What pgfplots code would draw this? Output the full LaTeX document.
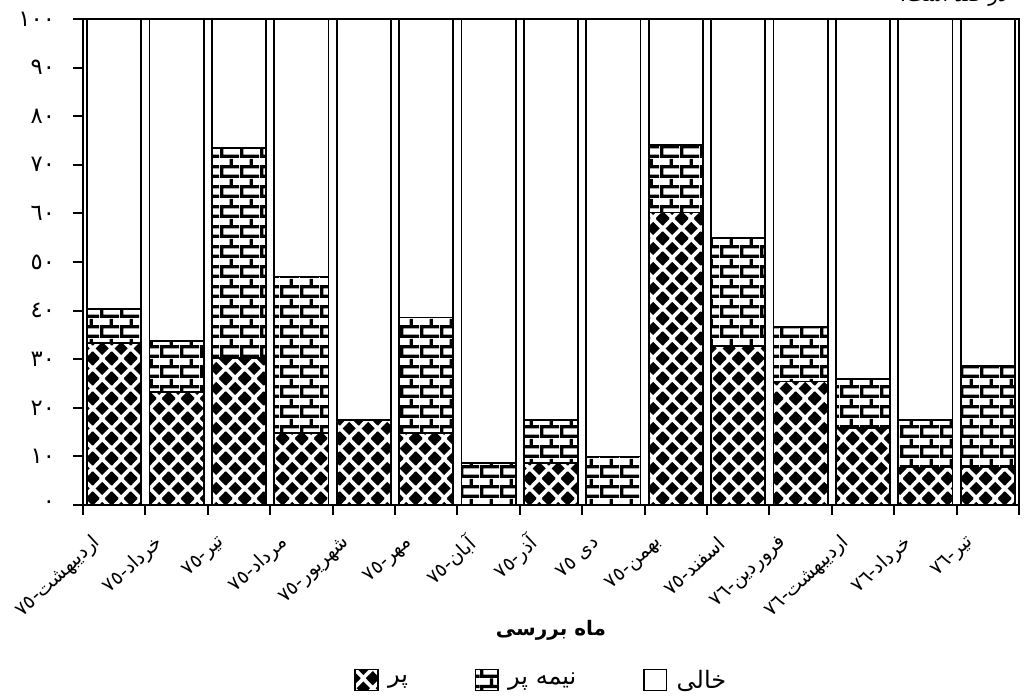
\documentclass[border=0pt]{standalone}
\usepackage{pgfplots}
\pgfplotsset{compat=1.18}
\usepackage{fontspec}
\usetikzlibrary{patterns}
\TeXXeTstate=1
\newfontfamily\arabicfont[Script=Arabic]{DejaVu Sans}
\newfontfamily\digitfont{DejaVu Sans}

\pgfdeclarepatternformonly{diamonds}{\pgfqpoint{0pt}{0pt}}{\pgfqpoint{14pt}{15pt}}{\pgfqpoint{14pt}{15pt}}{%
  \pgfpathmoveto{\pgfqpoint{7pt}{2.3pt}}\pgfpathlineto{\pgfqpoint{12pt}{7.5pt}}\pgfpathlineto{\pgfqpoint{7pt}{12.7pt}}\pgfpathlineto{\pgfqpoint{2pt}{7.5pt}}\pgfpathclose
  \pgfpathmoveto{\pgfqpoint{0pt}{-5.2pt}}\pgfpathlineto{\pgfqpoint{5pt}{0pt}}\pgfpathlineto{\pgfqpoint{0pt}{5.2pt}}\pgfpathlineto{\pgfqpoint{-5pt}{0pt}}\pgfpathclose
  \pgfpathmoveto{\pgfqpoint{14pt}{-5.2pt}}\pgfpathlineto{\pgfqpoint{19pt}{0pt}}\pgfpathlineto{\pgfqpoint{14pt}{5.2pt}}\pgfpathlineto{\pgfqpoint{9pt}{0pt}}\pgfpathclose
  \pgfpathmoveto{\pgfqpoint{0pt}{9.8pt}}\pgfpathlineto{\pgfqpoint{5pt}{15pt}}\pgfpathlineto{\pgfqpoint{0pt}{20.2pt}}\pgfpathlineto{\pgfqpoint{-5pt}{15pt}}\pgfpathclose
  \pgfpathmoveto{\pgfqpoint{14pt}{9.8pt}}\pgfpathlineto{\pgfqpoint{19pt}{15pt}}\pgfpathlineto{\pgfqpoint{14pt}{20.2pt}}\pgfpathlineto{\pgfqpoint{9pt}{15pt}}\pgfpathclose
  \pgfusepath{fill}}

\pgfdeclarepatternformonly{bricksx}{\pgfqpoint{0pt}{0pt}}{\pgfqpoint{15pt}{15pt}}{\pgfqpoint{15pt}{15pt}}{%
  \pgfpathrectangle{\pgfqpoint{0pt}{0pt}}{\pgfqpoint{15pt}{2.6pt}}
  \pgfpathrectangle{\pgfqpoint{0pt}{7.5pt}}{\pgfqpoint{15pt}{2.6pt}}
  \pgfpathrectangle{\pgfqpoint{0pt}{2.5pt}}{\pgfqpoint{2.6pt}{5.1pt}}
  \pgfpathrectangle{\pgfqpoint{7.5pt}{10pt}}{\pgfqpoint{2.6pt}{5.1pt}}
  \pgfusepath{fill}}

\begin{document}
\begin{tikzpicture}
\begin{axis}[
  at={(0,0)}, anchor=south west,
  scale only axis,
  width=702pt, height=364.5pt,
  ybar stacked,
  bar width=0.87,
  xmin=-0.5, xmax=14.5,
  ymin=0, ymax=100,
  axis line style={line width=1.6pt},
  every tick/.style={black, line width=1.4pt},
  tick align=outside,
  major tick length=7.5pt,
  xtick pos=bottom, ytick pos=left,
  xtick={-0.5,0.5,1.5,2.5,3.5,4.5,5.5,6.5,7.5,8.5,9.5,10.5,11.5,12.5,13.5,14.5},
  xticklabels={},
  extra x ticks={0,1,2,3,4,5,6,7,8,9,10,11,12,13,14},
  extra x tick style={major tick length=0pt},
  extra x tick labels={
    {\beginR اردیبهشت-٧٥\endR},
    {\beginR خرداد-٧٥\endR},
    {\beginR تیر-٧٥\endR},
    {\beginR مرداد-٧٥\endR},
    {\beginR شهریور-٧٥\endR},
    {\beginR مهر-٧٥\endR},
    {\beginR آبان-٧٥\endR},
    {\beginR آذر-٧٥\endR},
    {\beginR دی ٧٥\endR},
    {\beginR بهمن-٧٥\endR},
    {\beginR اسفند-٧٥\endR},
    {\beginR فروردین-٧٦\endR},
    {\beginR اردیبهشت-٧٦\endR},
    {\beginR خرداد-٧٦\endR},
    {\beginR تیر-٧٦\endR}},
  xticklabel style={font=\arabicfont\fontsize{14.5}{16}\selectfont, xshift=-10pt, yshift=-24pt, rotate=43, anchor=east},
  ytick={0,10,20,30,40,50,60,70,80,90,100},
  yticklabels={٠,١٠,٢٠,٣٠,٤٠,٥٠,٦٠,٧٠,٨٠,٩٠,١٠٠},
  yticklabel style={font=\digitfont\fontsize{17}{19}\selectfont, xshift=-10pt},
  legend style={draw=none, at={(0.49,-0.36)}, anchor=center, legend columns=3,
    font=\arabicfont\fontsize{18}{20}\selectfont,
    /tikz/every odd column/.append style={column sep=5pt},
    /tikz/every even column/.append style={column sep=48pt}},
  legend image code/.code={\draw[#1, line width=1.2pt] (0pt,-8pt) rectangle (17pt,8pt);},
  clip=false,
]
\addplot[draw=black, line width=1.3pt, pattern=diamonds, pattern color=black] coordinates {
 (0,33.3) (1,23.3) (2,30.2) (3,14.8) (4,17.5) (5,14.8) (6,0) (7,8.6) (8,0) (9,60.2) (10,32.7) (11,25.4) (12,15.8) (13,7.7) (14,7.7)};
\addlegendentry{\beginR پر\endR}
\addplot[draw=black, line width=1.3pt, pattern=bricksx, pattern color=black] coordinates {
 (0,7.1) (1,10.5) (2,43.2) (3,32.2) (4,0) (5,23.8) (6,8.6) (7,8.9) (8,10.0) (9,13.9) (10,22.2) (11,11.3) (12,10.1) (13,9.8) (14,20.9)};
\addlegendentry{\beginR نیمه پر\endR}
\addplot[draw=black, line width=1.3pt, fill=white] coordinates {
 (0,59.6) (1,66.2) (2,26.6) (3,53.0) (4,82.5) (5,61.4) (6,91.4) (7,82.5) (8,90.0) (9,25.9) (10,45.1) (11,63.3) (12,74.1) (13,82.5) (14,71.4)};
\addlegendentry{\beginR خالی\endR}
\node[font=\arabicfont\bfseries\fontsize{15}{17}\selectfont] at (rel axis cs:0.5,0) [yshift=-94pt] {\beginR ماه بررسی\endR};
\node[font=\arabicfont\fontsize{15}{17}\selectfont, anchor=south] at (rel axis cs:0.93,1) [yshift=6pt] {\beginR در صد است.\endR};
\end{axis}
\pgfresetboundingbox
\useasboundingbox (-62.25pt,-144pt) rectangle (705.75pt,378.75pt);
\end{tikzpicture}
\end{document}
